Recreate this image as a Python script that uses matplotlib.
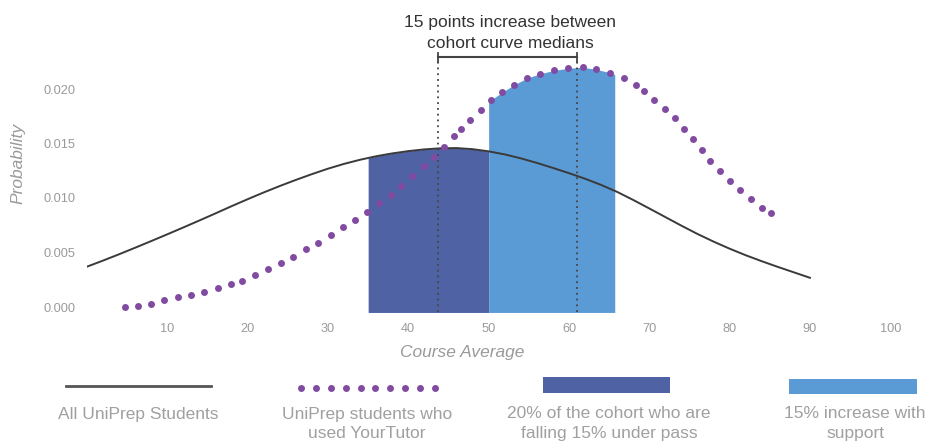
import numpy as np
import matplotlib
matplotlib.use("Agg")
import matplotlib.pyplot as plt
from matplotlib.patches import Rectangle

plt.rcParams['font.family'] = ['Liberation Sans', 'DejaVu Sans']

# ---- data ----
all_x = [0, 2, 4, 6, 8, 10, 12, 14, 16, 18, 20, 22, 24, 26, 28, 30, 32, 34, 36, 38, 40, 42, 44,
         46, 48, 50, 52, 54, 56, 58, 60, 62, 64, 66, 68, 70, 72, 74, 76, 78, 80, 82, 84, 86, 88, 90]
all_y = [0.00370, 0.00426, 0.00484, 0.00544, 0.00605, 0.00667, 0.00730, 0.00794, 0.00859,
         0.00925, 0.00989, 0.01051, 0.01110, 0.01166, 0.01219, 0.01269, 0.01313, 0.01351,
         0.01383, 0.01409, 0.01430, 0.01446, 0.01456, 0.01458, 0.01448, 0.01428, 0.01400,
         0.01364, 0.01322, 0.01276, 0.01228, 0.01177, 0.01120, 0.01056, 0.00982, 0.00904,
         0.00825, 0.00746, 0.00670, 0.00600, 0.00535, 0.00475, 0.00420, 0.00368, 0.00318, 0.00268]

tutor_x = [4.7, 6.3, 8.0, 9.6, 11.3, 13.0, 14.6, 16.3, 17.9, 19.3, 20.9, 22.5, 24.1, 25.7, 27.3,
           28.8, 30.4, 31.9, 33.4, 34.9, 36.4, 37.8, 39.1, 40.5, 41.9, 43.2, 44.5, 45.7, 46.6, 47.7,
           49.0, 50.3, 51.7, 53.2, 54.8, 56.4, 58.1, 59.9, 61.7, 63.4, 65.1, 66.8, 68.3, 69.4, 70.6,
           71.9, 73.2, 74.3, 75.4, 76.5, 77.6, 78.8, 80.0, 81.3, 82.6, 84.0, 85.1]
tutor_y = [0.0000, 0.0001, 0.0003, 0.0006, 0.0009, 0.0011, 0.0014, 0.0017, 0.0021, 0.0024,
           0.0029, 0.0035, 0.0040, 0.0046, 0.0053, 0.0059, 0.0066, 0.0073, 0.0080, 0.0087,
           0.0095, 0.0103, 0.0111, 0.0120, 0.0129, 0.0138, 0.0147, 0.0157, 0.0163, 0.0172,
           0.0181, 0.0190, 0.0197, 0.0204, 0.0210, 0.0214, 0.0217, 0.0219, 0.0220, 0.0218,
           0.0215, 0.0210, 0.0204, 0.0198, 0.0190, 0.0182, 0.0173, 0.0163, 0.0154, 0.0144,
           0.0134, 0.0125, 0.0116, 0.0107, 0.0099, 0.0091, 0.0086]

under_pass_band = (35, 50)
support_band = (50, 65.7)
medians = (43.7, 61.0)

x_ticks = [10, 20, 30, 40, 50, 60, 70, 80, 90, 100]
y_ticks = [0.000, 0.005, 0.010, 0.015, 0.020]

title_lines = ["15 points increase between", "cohort curve medians"]
legend_labels = [["All UniPrep Students"],
                 ["UniPrep students who", "used YourTutor"],
                 ["20% of the cohort who are", "falling 15% under pass"],
                 ["15% increase with", "support"]]

# ---- styles ----
DARK = '#4F63A4'
LIGHT = '#5B9BD5'
PURPLE = '#804BA0'
LINEC = '#3a3a3a'
GRAY = '#9a9a9a'
LGRAY = '#a0a0a0'

W, H = 926, 441
fig = plt.figure(figsize=(W / 100, H / 100), dpi=100)
ymin, ymax = -0.0005, 0.023
ax = fig.add_axes([87 / W, (H - 312.45) / H, 835.4 / W, (312.45 - 56.3) / H])
ax.set_xlim(0, 104)
ax.set_ylim(ymin, ymax)

ax_x = np.array(all_x, float)
ax_y = np.array(all_y, float)
tx = np.array(tutor_x, float)
ty = np.array(tutor_y, float)


def band(lo, hi, x, y):
    xs = np.concatenate([[lo], x[(x > lo) & (x < hi)], [hi]])
    return xs, np.interp(xs, x, y)


# dark band under the all-students curve
bx, by = band(*under_pass_band, ax_x, ax_y)
ax.fill_between(bx, ymin, by, color=DARK, lw=0, zorder=1)

# light band under the tutor curve
bx, by = band(*support_band, tx, ty)
ax.fill_between(bx, ymin, by, color=LIGHT, lw=0, zorder=1)

ax.plot(ax_x, ax_y, color=LINEC, lw=1.4, zorder=3, solid_joinstyle='round')

bracket_y = 0.0229
for mx in medians:
    ax.plot([mx, mx], [ymin, bracket_y], color='#444444', lw=1.3, ls=(0, (1, 2.2)), zorder=4, clip_on=False)
ax.plot([medians[0], medians[1]], [bracket_y, bracket_y], color='#444444', lw=1.5, zorder=4, clip_on=False)
for mx in medians:
    ax.plot([mx, mx], [bracket_y - 0.0004, bracket_y + 0.0004], color='#444444', lw=1.3, zorder=4, clip_on=False)

ax.plot(tx, ty, ls='none', marker='o', ms=5.0, color=PURPLE, mec='none', zorder=5, clip_on=False)

for s in ax.spines.values():
    s.set_visible(False)
ax.set_xticks(x_ticks)
ax.set_xticklabels([str(v) for v in x_ticks])
ax.set_yticks(y_ticks)
ax.set_yticklabels([f"{v:.3f}" for v in y_ticks])
ax.tick_params(length=0, colors=GRAY, labelsize=9.2)
ax.tick_params(axis='x', pad=7.5)
ax.tick_params(axis='y', pad=8)

fig.text(462 / W, 1 - 352 / H, "Course Average", ha='center', va='center', color=GRAY,
         fontsize=12.5, style='italic')
fig.text(18 / W, 1 - 163 / H, "Probability", ha='center', va='center', color=GRAY,
         fontsize=12.5, style='italic', rotation=90)

fig.text(510 / W, 1 - 22 / H, title_lines[0], ha='center', va='center', color='#333333', fontsize=12.5)
fig.text(510 / W, 1 - 44 / H, title_lines[1], ha='center', va='center', color='#333333', fontsize=12.5)

# ---- custom legend in pixel space ----
lg = fig.add_axes([0, 0, 1, 1])
lg.set_xlim(0, W)
lg.set_ylim(H, 0)
lg.axis('off')
lg.patch.set_alpha(0)
lg.plot([66, 211], [386, 386], color='#555555', lw=2)
lg.plot(np.linspace(301, 435, 10), [388] * 10, ls='none', marker='o', ms=5, color=PURPLE, mec='none')
lg.add_patch(Rectangle((543, 377), 127, 16, color=DARK, lw=0))
lg.add_patch(Rectangle((789, 379), 128, 15, color=LIGHT, lw=0))
centers = [138, 367, 609, 855]
for cx, lines in zip(centers, legend_labels):
    for i, t in enumerate(lines):
        lg.text(cx, 414 + 19.5 * i, t, ha='center', va='center', color=LGRAY, fontsize=12.5)

fig.savefig("out.png", dpi=100)
